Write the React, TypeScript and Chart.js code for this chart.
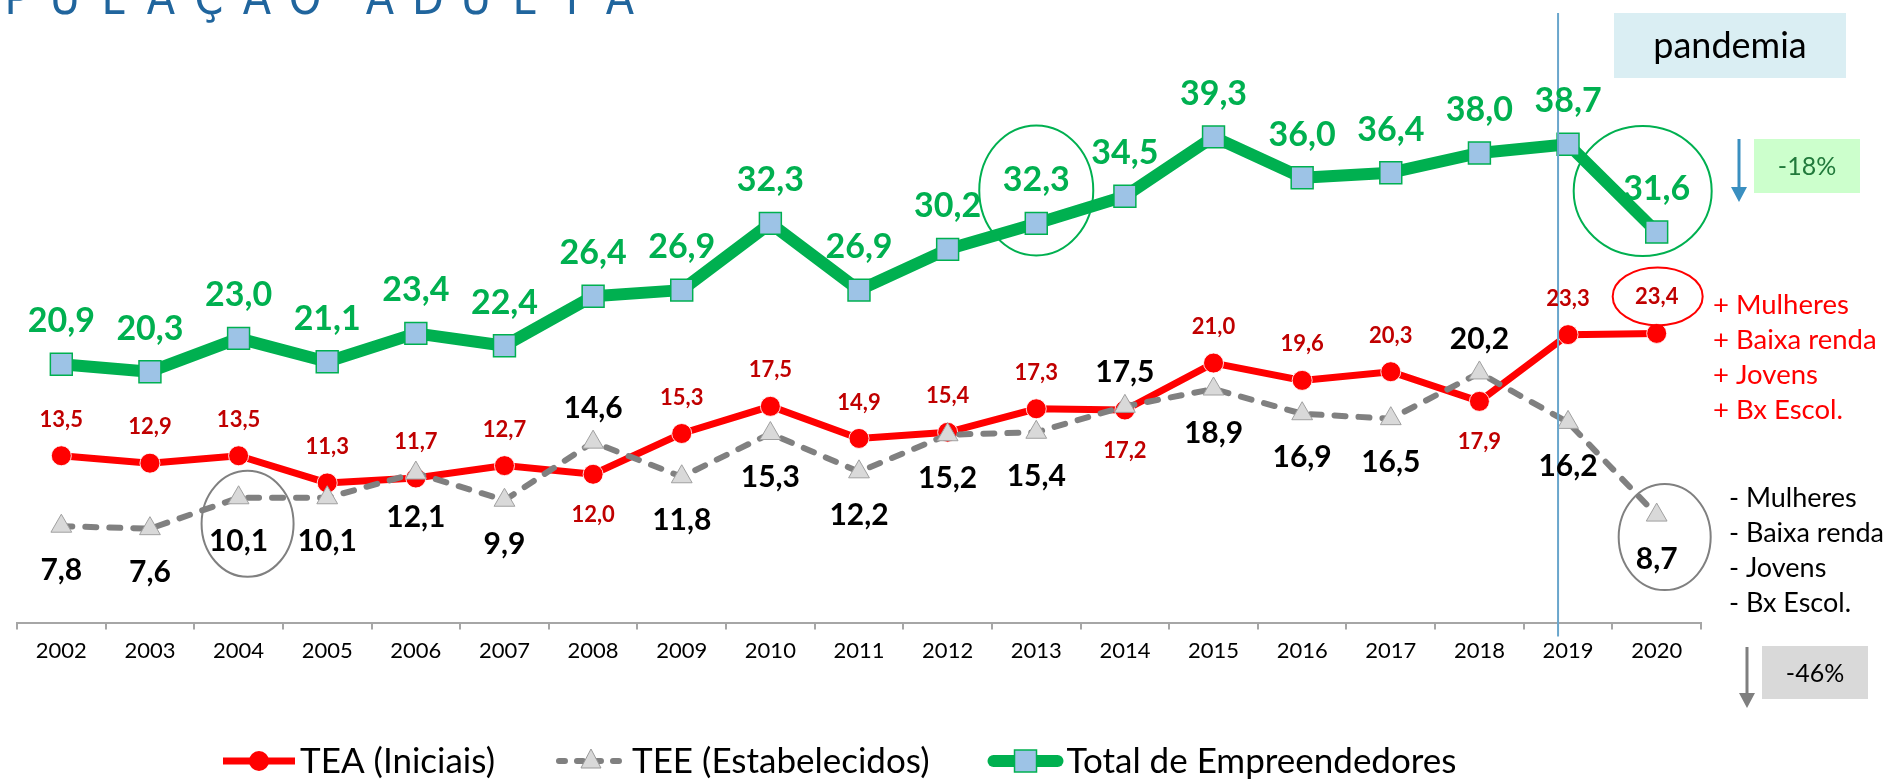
import React, { useEffect, useRef } from 'react';
import { Chart, registerables } from 'chart.js';

Chart.register(...registerables);

// ---------- data ----------
const YEARS = ['2002', '2003', '2004', '2005', '2006', '2007', '2008', '2009', '2010', '2011', '2012', '2013', '2014', '2015', '2016', '2017', '2018', '2019', '2020'];
const TEA = [13.5, 12.9, 13.5, 11.3, 11.7, 12.7, 12.0, 15.3, 17.5, 14.9, 15.4, 17.3, 17.2, 21.0, 19.6, 20.3, 17.9, 23.3, 23.4];
const TEE = [7.8, 7.6, 10.1, 10.1, 12.1, 9.9, 14.6, 11.8, 15.3, 12.2, 15.2, 15.4, 17.5, 18.9, 16.9, 16.5, 20.2, 16.2, 8.7];
const TOTAL = [20.9, 20.3, 23.0, 21.1, 23.4, 22.4, 26.4, 26.9, 32.3, 26.9, 30.2, 32.3, 34.5, 39.3, 36.0, 36.4, 38.0, 38.7, 31.6];

const TEA_LABEL_BELOW = ['2008', '2014', '2018'];
const TEE_LABEL_ABOVE = ['2008', '2014', '2018'];

const SERIES_NAMES = ['TEA (Iniciais)', 'TEE (Estabelecidos)', 'Total de Empreendedores'];
const TITLE = 'POPULAÇÃO ADULTA';
const PANDEMIA_TEXT = 'pandemia';
const PANDEMIA_YEAR = '2019';
const PLUS_LINES = ['+ Mulheres', '+ Baixa renda', '+ Jovens', '+ Bx Escol.'];
const MINUS_LINES = ['- Mulheres', '- Baixa renda', '- Jovens', '- Bx Escol.'];
const TOTAL_CHANGE = '-18%';
const TEE_CHANGE = '-46%';

// ---------- styles ----------
const FONT = 'Lato, "Open Sans", "DejaVu Sans", sans-serif';
const RED = '#FF0000';
const DARK_RED = '#C00000';
const GRAY = '#808080';
const GREEN = '#00B050';
const SQUARE_FILL = '#9DC3E6';
const TRI_FILL = '#D9D9D9';

const fmt = (v: number) => v.toFixed(1).replace('.', ',');

function ellipse(ctx: CanvasRenderingContext2D, cx: number, cy: number, rx: number, ry: number, color: string) {
  ctx.save();
  ctx.beginPath();
  ctx.ellipse(cx, cy, rx, ry, 0, 0, Math.PI * 2);
  ctx.strokeStyle = color;
  ctx.lineWidth = 2;
  ctx.stroke();
  ctx.restore();
}

function arrow(ctx: CanvasRenderingContext2D, x: number, y1: number, y2: number, color: string) {
  ctx.save();
  ctx.strokeStyle = color;
  ctx.fillStyle = color;
  ctx.lineWidth = 3;
  ctx.beginPath();
  ctx.moveTo(x, y1);
  ctx.lineTo(x, y2 - 12);
  ctx.stroke();
  ctx.beginPath();
  ctx.moveTo(x - 8, y2 - 15);
  ctx.lineTo(x + 8, y2 - 15);
  ctx.lineTo(x, y2);
  ctx.closePath();
  ctx.fill();
  ctx.restore();
}

function box(ctx: CanvasRenderingContext2D, x: number, y: number, w: number, h: number, fill: string, text: string, color: string, font: string) {
  ctx.save();
  ctx.fillStyle = fill;
  ctx.fillRect(x, y, w, h);
  ctx.fillStyle = color;
  ctx.font = font;
  ctx.textAlign = 'center';
  ctx.textBaseline = 'middle';
  ctx.fillText(text, x + w / 2, y + h / 2 + 1);
  ctx.restore();
}

const overlayPlugin = {
  id: 'overlay',
  beforeDraw(chart: any) {
    const ctx = chart.ctx;
    ctx.save();
    ctx.fillStyle = '#FFFFFF';
    ctx.fillRect(0, 0, chart.width, chart.height);
    ctx.restore();
  },
  afterDatasetsDraw(chart: any) {
    const ctx: CanvasRenderingContext2D = chart.ctx;
    const teaMeta = chart.getDatasetMeta(0);
    const teeMeta = chart.getDatasetMeta(1);
    const totMeta = chart.getDatasetMeta(2);
    const xs = chart.scales.x;
    const area = chart.chartArea;

    // pandemia vertical line
    const vx = xs.getPixelForValue(YEARS.indexOf(PANDEMIA_YEAR)) - 10;
    ctx.save();
    ctx.strokeStyle = '#6AA6CC';
    ctx.lineWidth = 2;
    ctx.beginPath();
    ctx.moveTo(vx, 13);
    ctx.lineTo(vx, area.bottom + 14);
    ctx.stroke();
    ctx.restore();

    ctx.save();
    ctx.textAlign = 'center';
    ctx.textBaseline = 'middle';

    // Total labels
    ctx.font = `bold 34px ${FONT}`;
    ctx.fillStyle = GREEN;
    totMeta.data.forEach((p: any, i: number) => {
      ctx.fillText(fmt(TOTAL[i]), p.x, p.y - 43);
    });

    // TEA labels
    ctx.font = `bold 22px ${FONT}`;
    ctx.fillStyle = DARK_RED;
    teaMeta.data.forEach((p: any, i: number) => {
      const below = TEA_LABEL_BELOW.includes(YEARS[i]);
      ctx.fillText(fmt(TEA[i]), p.x, below ? p.y + 41 : p.y - 36);
    });

    // TEE labels
    ctx.font = `bold 30px ${FONT}`;
    ctx.fillStyle = '#000000';
    teeMeta.data.forEach((p: any, i: number) => {
      const above = TEE_LABEL_ABOVE.includes(YEARS[i]);
      ctx.fillText(fmt(TEE[i]), p.x, above ? p.y - 34 : p.y + 44);
    });
    ctx.restore();

    // highlight ellipses
    const t2013 = totMeta.data[YEARS.indexOf('2013')];
    ellipse(ctx, t2013.x, t2013.y - 33, 57, 65, GREEN);
    const t2020 = totMeta.data[YEARS.indexOf('2020')];
    ellipse(ctx, t2020.x - 14, t2020.y - 41, 69, 65, GREEN);
    const r2020 = teaMeta.data[YEARS.indexOf('2020')];
    ellipse(ctx, r2020.x + 1, r2020.y - 37, 45, 29, RED);
    const g2020 = teeMeta.data[YEARS.indexOf('2020')];
    ellipse(ctx, g2020.x + 8, g2020.y + 22, 46, 53, GRAY);
    const g2004 = teeMeta.data[YEARS.indexOf('2004')];
    ellipse(ctx, g2004.x + 9, g2004.y + 26, 46, 53, GRAY);
  },
  afterDraw(chart: any) {
    const ctx: CanvasRenderingContext2D = chart.ctx;

    // title (cut off at top)
    ctx.save();
    ctx.font = `46px "Liberation Sans Narrow", "DejaVu Sans Condensed", ${FONT}`;
    ctx.fillStyle = '#20659D';
    ctx.textAlign = 'center';
    ctx.textBaseline = 'alphabetic';
    let cx = 17 - 2 * 48;
    for (const ch of TITLE) {
      if (ch === ' ') { cx += 27; continue; }
      ctx.fillText(ch, cx, 14);
      cx += 48;
    }
    ctx.restore();

    // pandemia box
    box(ctx, 1614, 13, 232, 65, '#DAEEF3', PANDEMIA_TEXT, '#000000', `36px ${FONT}`);
    arrow(ctx, 1739, 139, 202, '#3A8FC0');
    box(ctx, 1754, 139, 106, 54, '#CCFFCC', TOTAL_CHANGE, '#217A3B', `25px ${FONT}`);
    arrow(ctx, 1747, 647, 708, '#7F7F7F');
    box(ctx, 1762, 646, 106, 53, '#D9D9D9', TEE_CHANGE, '#000000', `25px ${FONT}`);

    // side texts
    ctx.save();
    ctx.font = `27.5px ${FONT}`;
    ctx.textAlign = 'left';
    ctx.textBaseline = 'middle';
    ctx.fillStyle = RED;
    PLUS_LINES.forEach((t, i) => ctx.fillText(t, 1713, 305 + i * 35));
    ctx.fillStyle = '#000000';
    ctx.font = `27px ${FONT}`;
    MINUS_LINES.forEach((t, i) => ctx.fillText(t, 1729, 498 + i * 35));
    ctx.restore();

    // legend
    ctx.save();
    const ly = 761;
    ctx.font = `35px ${FONT}`;
    ctx.textBaseline = 'middle';
    ctx.textAlign = 'left';
    let x = 223;
    SERIES_NAMES.forEach((name, i) => {
      const x0 = x, x1 = x + 72, mx = x + 36;
      ctx.save();
      ctx.lineCap = i === 1 ? 'round' : 'butt';
      if (i === 0) { ctx.strokeStyle = RED; ctx.lineWidth = 7; }
      if (i === 1) { ctx.strokeStyle = GRAY; ctx.lineWidth = 6; ctx.setLineDash([6, 12]); }
      if (i === 2) { ctx.strokeStyle = GREEN; ctx.lineWidth = 12; ctx.lineCap = 'round'; }
      ctx.beginPath();
      ctx.moveTo(x0 + (i === 0 ? 0 : 4), ly);
      ctx.lineTo(x1 - (i === 0 ? 0 : 4), ly);
      ctx.stroke();
      ctx.restore();
      ctx.save();
      if (i === 0) {
        ctx.fillStyle = RED;
        ctx.beginPath();
        ctx.arc(mx, ly, 10, 0, Math.PI * 2);
        ctx.fill();
      } else if (i === 1) {
        ctx.fillStyle = TRI_FILL;
        ctx.strokeStyle = '#999999';
        ctx.lineWidth = 1;
        ctx.beginPath();
        ctx.moveTo(mx, ly - 12);
        ctx.lineTo(mx + 10, ly + 7);
        ctx.lineTo(mx - 10, ly + 7);
        ctx.closePath();
        ctx.fill();
        ctx.stroke();
      } else {
        ctx.fillStyle = SQUARE_FILL;
        ctx.strokeStyle = GREEN;
        ctx.lineWidth = 1.5;
        ctx.fillRect(mx - 11, ly - 11, 22, 22);
        ctx.strokeRect(mx - 11, ly - 11, 22, 22);
      }
      ctx.restore();
      ctx.fillStyle = '#000000';
      ctx.fillText(name, x1 + 5, ly + 1);
      x = x1 + 5 + ctx.measureText(name).width + 60;
    });
    ctx.restore();
  },
};

export default function App() {
  const canvasRef = useRef<HTMLCanvasElement | null>(null);

  useEffect(() => {
    document.body.style.margin = '0';
    document.body.style.overflow = 'hidden';
    const canvas = canvasRef.current;
    if (!canvas) return;
    const chart = new Chart(canvas, {
      type: 'line',
      data: {
        labels: YEARS,
        datasets: [
          {
            label: SERIES_NAMES[0],
            data: TEA,
            borderColor: RED,
            backgroundColor: RED,
            borderWidth: 7,
            pointStyle: 'circle',
            pointRadius: 10,
            pointHoverRadius: 10,
            pointBackgroundColor: RED,
            pointBorderColor: 'rgba(255,255,255,0.85)',
            pointBorderWidth: 1,
            tension: 0,
            order: 1,
          },
          {
            label: SERIES_NAMES[1],
            data: TEE,
            borderColor: GRAY,
            backgroundColor: TRI_FILL,
            borderWidth: 6,
            borderDash: [11, 13],
            borderCapStyle: 'round',
            pointStyle: 'triangle',
            pointRadius: 12,
            pointHoverRadius: 12,
            pointBackgroundColor: TRI_FILL,
            pointBorderColor: '#A0A0A0',
            pointBorderWidth: 1,
            tension: 0,
            order: 0,
          },
          {
            label: SERIES_NAMES[2],
            data: TOTAL,
            borderColor: GREEN,
            backgroundColor: SQUARE_FILL,
            borderWidth: 12,
            borderJoinStyle: 'round',
            pointStyle: 'rect',
            pointRadius: 15.5,
            pointHoverRadius: 15.5,
            pointBackgroundColor: SQUARE_FILL,
            pointBorderColor: GREEN,
            pointBorderWidth: 1.5,
            tension: 0,
            order: 2,
          },
        ],
      },
      options: {
        animation: false,
        responsive: true,
        maintainAspectRatio: false,
        events: [],
        layout: { padding: { left: 9, right: 187, top: 5, bottom: 110 } },
        plugins: {
          legend: { display: false },
          tooltip: { enabled: false },
          title: { display: false },
        },
        scales: {
          x: {
            type: 'category',
            offset: true,
            grid: {
              display: true,
              offset: true,
              drawOnChartArea: false,
              drawTicks: true,
              tickLength: 7,
              color: '#A6A6A6',
              lineWidth: 2,
            },
            border: { display: true, color: '#A6A6A6', width: 2 },
            ticks: {
              color: '#000000',
              font: { family: FONT, size: 22 },
              padding: 8,
              maxRotation: 0,
              autoSkip: false,
            },
          },
          y: {
            display: false,
            min: 0,
            max: 49,
          },
        },
      },
      plugins: [overlayPlugin],
    });
    return () => chart.destroy();
  }, []);

  return (
    <div style={{ width: '1888px', height: '782px', position: 'relative' }}>
      <canvas ref={canvasRef} />
    </div>
  );
}
